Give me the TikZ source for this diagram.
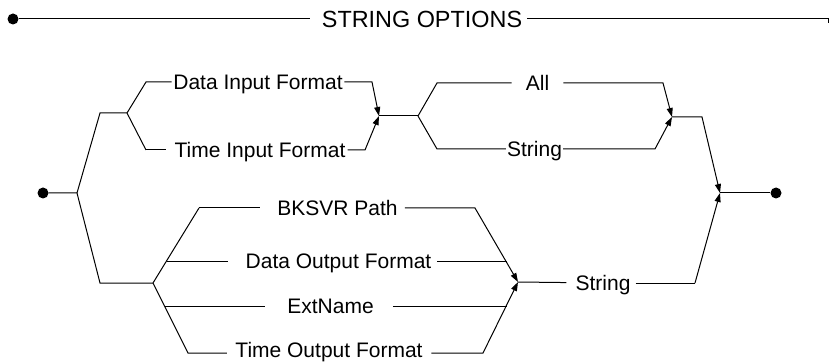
\documentclass[tikz,border=0pt]{standalone}
\usepackage{fontspec}
\setmainfont{Liberation Sans}
\usetikzlibrary{arrows.meta}
\begin{document}
\begin{tikzpicture}[x=1pt,y=-1pt,
  line/.style={line width=1pt,black,line join=miter},
  arr/.style={line, -{Triangle[length=9pt,width=6pt]}},
  lbl/.style={font=\fontsize{21}{24}\selectfont, text height=15pt, text depth=0pt, inner ysep=0pt, anchor=center},
  ttl/.style={font=\fontsize{23.4}{27}\selectfont, text height=16.8pt, text depth=0pt, inner ysep=0pt, anchor=center},
  dot/.style={circle, fill=black, inner sep=0pt, minimum size=11pt}]
\useasboundingbox (0,0) rectangle (829,363);
% title line
\node[dot] (t0) at (13,19) {};
\node[ttl, inner xsep=5pt] (title) at (422,19) {STRING OPTIONS};
\coordinate (t1) at (828,19);
\coordinate (t2) at (828,23);
\draw[line, shorten >=7pt] (t0) -- (title);
\draw[line] (title) -- (t1) -- (t2);
% junction coordinates
\node[dot] (s) at (43,193) {};
\coordinate (a) at (77,193);
\coordinate (b1) at (100,113);
\coordinate (b2) at (127,113);
\coordinate (c1) at (146,82);
\coordinate (c2) at (146,150);
\coordinate (d1) at (372,82);
\coordinate (d2) at (365,150);
\coordinate (j1) at (379,116);
\coordinate (f) at (418,116);
\coordinate (g1) at (437,83);
\coordinate (g2) at (437,149);
\coordinate (h1) at (663,83);
\coordinate (h2) at (655,149);
\coordinate (j2) at (672,117);
\coordinate (k) at (702,117);
\coordinate (j3) at (720,193);
\node[dot] (e) at (776,193) {};
\coordinate (m1) at (100,283);
\coordinate (m2) at (153,283);
\coordinate (n1) at (199,208);
\coordinate (q1) at (166.5,261);
\coordinate (o1) at (188,353);
\coordinate (q2) at (164.5,306);
\coordinate (p1) at (475,208);
\coordinate (r1) at (507,261);
\coordinate (u) at (483,353);
\coordinate (r2) at (507,306);
\coordinate (j4) at (518,282);
\coordinate (v) at (695,283);
% labels
\node[lbl, inner xsep=1.5pt] (dif) at (258,82) {Data Input Format};
\node[lbl, inner xsep=2pt] (tif) at (260,150) {Time Input Format};
\node[lbl, inner xsep=14pt] (all) at (537.5,83) {All};
\node[lbl, inner xsep=1pt] (str1) at (534.5,149) {String};
\node[lbl, inner xsep=7pt] (bk) at (337.5,208) {BKSVR Path};
\node[lbl, inner xsep=6pt] (dof) at (338.5,261) {Data Output Format};
\node[lbl, inner xsep=19pt] (ext) at (330.5,306) {ExtName};
\node[lbl, inner xsep=8.5pt] (tof) at (329,353) {\raisebox{3pt}{Time Output Format}};
\node[lbl, inner xsep=5pt] (str2) at (603,283) {String};
% upper part
\draw[line] (s) -- (a) -- (b1) -- (b2);
\draw[line] (b2) -- (c1) -- (dif);
\draw[line] (b2) -- (c2);
\draw[line, shorten >=6pt] (c2) -- (tif);
\draw[arr] (dif) -- (d1) -- (j1);
\draw[arr] (tif) -- (d2) -- (j1);
\draw[line] (j1) -- (f);
\draw[line] (f) -- (g1) -- (all);
\draw[line] (f) -- (g2) -- (str1);
\draw[arr] (all) -- (h1) -- (j2);
\draw[arr] (str1) -- (h2) -- (j2);
\draw[arr] (j2) -- (k) -- (j3);
\draw[line] (j3) -- (e);
% lower part
\draw[line] (a) -- (m1) -- (m2);
\draw[line] (m2) -- (n1);
\draw[line, shorten >=10pt] (n1) -- (bk);
\draw[line] (m2) -- (o1) -- (tof);
\draw[line, shorten >=12pt] (q1) -- (dof);
\draw[line, shorten >=3pt] (q2) -- (ext);
\draw[arr] (bk) -- (p1) -- (j4);
\draw[line] (dof) -- (r1);
\draw[line] (ext) -- (r2);
\draw[arr] (tof) -- (u) -- (j4);
\draw[line, shorten >=4pt] (j4) -- (str2);
\draw[line] (str2) -- (v);
\draw[arr] (v) -- (j3);
\end{tikzpicture}
\end{document}
